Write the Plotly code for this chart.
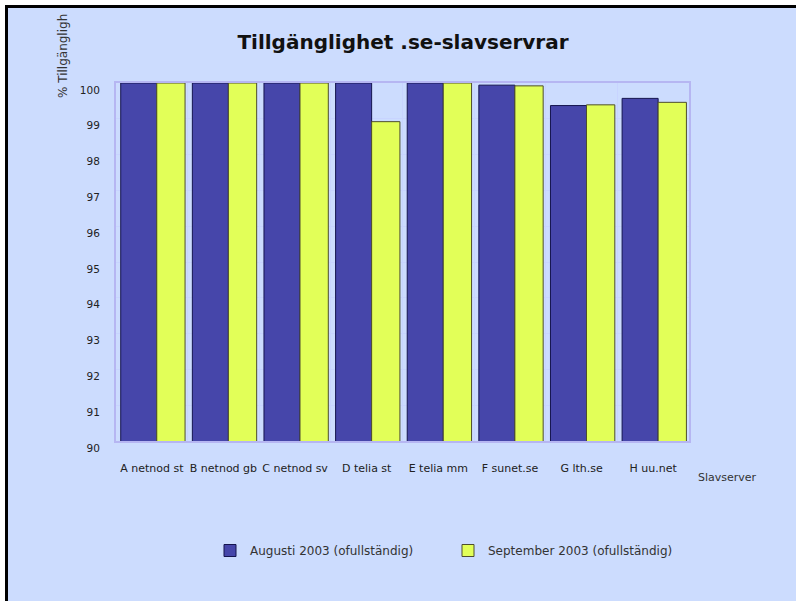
import plotly.graph_objects as go

# Availability of the .se slave name servers, per server and month
servers = ["A netnod st", "B netnod gb", "C netnod sv", "D telia st",
           "E telia mm", "F sunet.se", "G lth.se", "H uu.net"]
aug_2003 = [100, 100, 100, 100, 100, 99.94, 99.37, 99.57]
sep_2003 = [100, 100, 100, 98.92, 100, 99.92, 99.39, 99.46]
series_names = ["Augusti 2003 (ofullständig)", "September 2003 (ofullständig)"]
y_ticks = list(range(90, 101))

W, H = 796, 601
L, R, T, B = 116, 689, 83, 441          # plot area in pixels
PW, PH = R - L, B - T


def px_x(px):
    return (px - L) / PW


def px_y(py):
    return (B - py) / PH


FONT = "DejaVu Sans, Verdana, sans-serif"
PAGE_BG = "#CCDCFE"
PLOT_BG = "#AABAFA"
GRID = "#C8D4FF"
FRAME = "#B6B6F2"

fig = go.Figure()
fig.add_trace(go.Bar(
    x=servers, y=aug_2003, name=series_names[0],
    offset=-0.434, width=0.503,
    marker=dict(color="#4646AA", line=dict(color="#14144E", width=1)),
))
fig.add_trace(go.Bar(
    x=servers, y=sep_2003, name=series_names[1],
    offset=0.069, width=0.395,
    marker=dict(color="#E2FF58", line=dict(color="#4E4E2E", width=1)),
))

fig.update_layout(
    width=W, height=H,
    margin=dict(l=L, r=W - R, t=T, b=H - B, pad=0),
    paper_bgcolor="white",
    plot_bgcolor=PLOT_BG,
    barmode="overlay",
    font=dict(family=FONT, size=11, color="#333333"),
    title=dict(
        text="<b>Tillgänglighet .se-slavservrar</b>",
        font=dict(family=FONT, size=20, color="#111111"),
        x=px_x(403), xref="paper", xanchor="center",
        y=1 - 42 / H, yref="container", yanchor="middle",
    ),
    xaxis=dict(
        type="category", tickson="boundaries", ticks="",
        showgrid=True, gridcolor=GRID, gridwidth=1,
        showline=True, linecolor=FRAME, linewidth=2, mirror=True,
        tickfont=dict(family=FONT, size=11, color="#222222"),
        tickangle=0, ticklabelstandoff=16,
        range=[-0.5, len(servers) - 0.5],
    ),
    yaxis=dict(
        range=[90, 100], tickvals=y_ticks, ticks="",
        showgrid=True, gridcolor=GRID, gridwidth=1,
        showline=True, linecolor=FRAME, linewidth=2, mirror=True,
        zeroline=False,
        tickfont=dict(family=FONT, size=10.5, color="#222222"),
        ticklabelstandoff=12, ticklabelshift=7,
    ),
    legend=dict(
        orientation="h", x=px_x(210), xanchor="left",
        y=px_y(536), yanchor="top",
        bgcolor="rgba(0,0,0,0)",
        font=dict(family=FONT, size=12, color="#333333"),
        entrywidth=193, traceorder="normal",
    ),
    showlegend=True,
)

# Page panel, framed in black along its top and left edges
fig.add_shape(
    type="rect", xref="paper", yref="paper", layer="below",
    x0=px_x(6.5), x1=px_x(W + 60), y0=px_y(H + 60), y1=px_y(6.5),
    fillcolor=PAGE_BG, line=dict(width=0),
)
fig.add_shape(
    type="line", xref="paper", yref="paper", layer="below",
    x0=px_x(6.5), x1=px_x(6.5), y0=px_y(H + 60), y1=px_y(5),
    line=dict(color="black", width=3),
)
fig.add_shape(
    type="line", xref="paper", yref="paper", layer="below",
    x0=px_x(5), x1=px_x(W + 60), y0=px_y(6.5), y1=px_y(6.5),
    line=dict(color="black", width=3),
)

# Axis titles
fig.add_annotation(
    text="% Tillgängligh", textangle=-90, showarrow=False,
    xref="paper", yref="paper", x=px_x(63), y=px_y(100),
    xanchor="center", yanchor="bottom",
    font=dict(family=FONT, size=12, color="#333333"),
)
fig.add_annotation(
    text="Slavserver", showarrow=False,
    xref="paper", yref="paper", x=px_x(727), y=px_y(477),
    xanchor="center", yanchor="middle",
    font=dict(family=FONT, size=11, color="#333333"),
)

fig.write_html("out.html")
